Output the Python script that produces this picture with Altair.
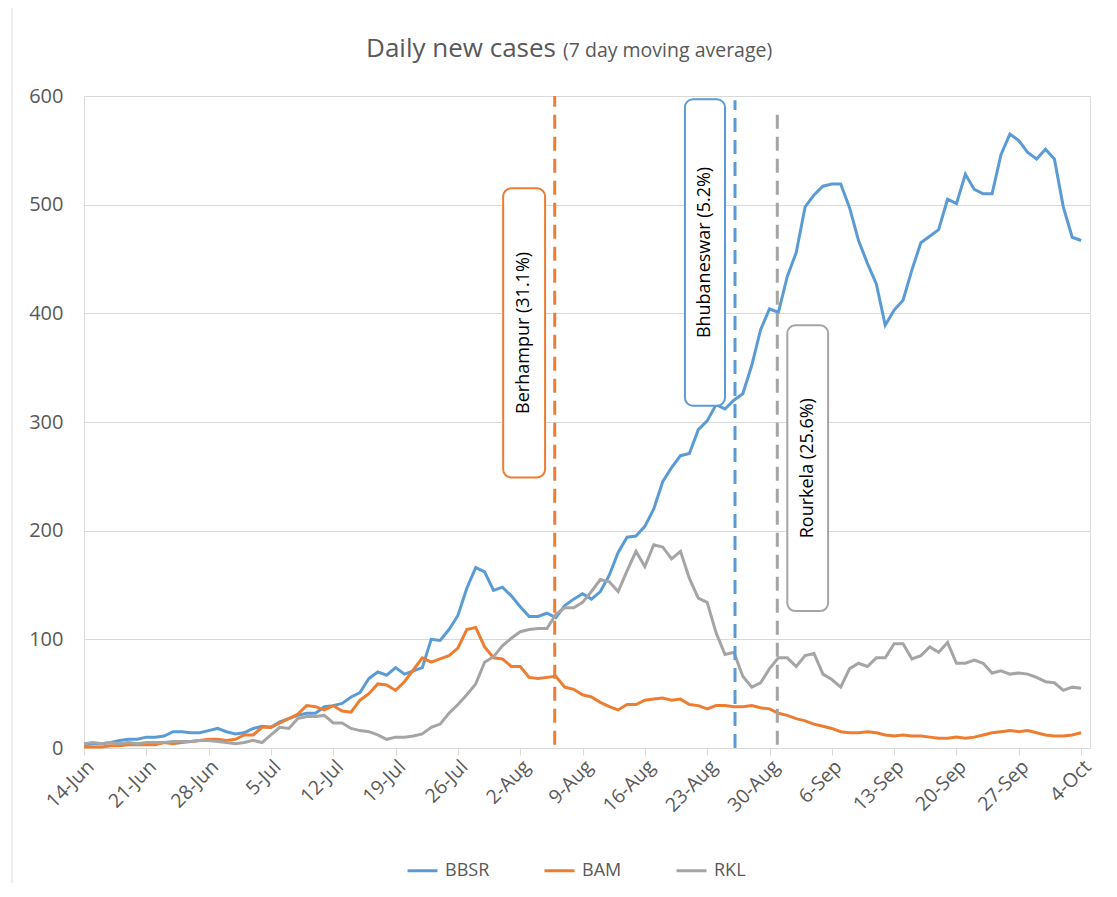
import altair as alt
import pandas as pd

# ---------------- data ----------------
start_date = "2020-06-14"

bbsr = [3, 4, 4, 5, 7, 8, 8, 10, 10, 11, 15, 15, 14, 14, 16, 18, 15, 13, 14, 18,
        20, 19, 24, 27, 30, 32, 32, 38, 39, 41, 47, 51, 64, 70, 67, 74, 68, 71, 74, 100,
        99, 109, 122, 147, 166, 162, 145, 148, 140, 130, 121, 121, 124, 120, 131, 137, 142, 137, 144, 159,
        180, 194, 195, 204, 220, 245, 258, 269, 271, 293, 301, 316, 312, 320, 326, 352, 385, 404, 401, 434,
        456, 498, 509, 517, 519, 519, 497, 467, 446, 427, 389, 403, 412, 440, 465, 471, 477, 505, 501, 528,
        514, 510, 510, 546, 565, 559, 548, 542, 551, 542, 498, 470, 467]

bam = [1, 1, 1, 2, 2, 3, 3, 3, 3, 5, 4, 5, 6, 7, 8, 8, 7, 8, 12, 12,
       19, 19, 23, 27, 31, 39, 38, 35, 39, 34, 33, 44, 50, 59, 58, 53, 61, 72, 83, 79,
       82, 85, 92, 109, 111, 93, 83, 82, 75, 75, 65, 64, 65, 66, 56, 54, 49, 47, 42, 38,
       35, 40, 40, 44, 45, 46, 44, 45, 40, 39, 36, 39, 39, 38, 38, 39, 37, 36, 32, 30,
       27, 25, 22, 20, 18, 15, 14, 14, 15, 14, 12, 11, 12, 11, 11, 10, 9, 9, 10, 9,
       10, 12, 14, 15, 16, 15, 16, 14, 12, 11, 11, 12, 14]

rkl = [4, 5, 4, 5, 4, 5, 4, 5, 5, 5, 6, 6, 6, 7, 7, 6, 5, 4, 5, 7,
       5, 12, 19, 18, 27, 29, 29, 30, 23, 23, 18, 16, 15, 12, 8, 10, 10, 11, 13, 19,
       22, 32, 40, 49, 59, 79, 84, 94, 101, 107, 109, 110, 110, 123, 129, 129, 134, 144, 155, 153,
       144, 163, 181, 167, 187, 185, 174, 181, 156, 138, 134, 106, 86, 88, 66, 56, 60, 73, 83, 83,
       75, 85, 87, 68, 63, 56, 73, 78, 75, 83, 83, 96, 96, 82, 85, 93, 88, 97, 78, 78,
       81, 78, 69, 71, 68, 69, 68, 65, 61, 60, 53, 56, 55]

series_names = ["BBSR", "BAM", "RKL"]
series_colors = ["#5B9BD5", "#ED7D31", "#A5A5A5"]

tick_labels = ["14-Jun", "21-Jun", "28-Jun", "5-Jul", "12-Jul", "19-Jul", "26-Jul",
               "2-Aug", "9-Aug", "16-Aug", "23-Aug", "30-Aug", "6-Sep", "13-Sep",
               "20-Sep", "27-Sep", "4-Oct"]
y_ticks = [0, 100, 200, 300, 400, 500, 600]

# vertical markers (dashed lines)
marker_series = ["BAM", "BBSR", "RKL"]
marker_dates = ["2020-08-05T21:00:00", "2020-08-26T03:00:00", "2020-08-30T21:00:00"]
marker_low = [3, 0, 3]
marker_high = [600, 596, 589]

# annotation boxes
box_series = ["BAM", "BBSR", "RKL"]
box_text = ["Berhampur (31.1%)", "Bhubaneswar (5.2%)", "Rourkela (25.6%)"]
box_left = ["2020-07-31T02:00:00", "2020-08-20T12:00:00", "2020-09-01T00:00:00"]
box_right = ["2020-08-04T19:00:00", "2020-08-25T00:00:00", "2020-09-05T14:00:00"]
box_mid = ["2020-08-02T10:30:00", "2020-08-22T18:00:00", "2020-09-03T07:00:00"]
box_low = [249, 315, 126]
box_high = [515, 597, 389]

# ---------------- tables ----------------
n = len(bbsr)
dates = pd.date_range(start_date, periods=n, freq="D").strftime("%Y-%m-%dT00:00:00").tolist()
df = pd.DataFrame({
    "date": dates * 3,
    "series": ["BBSR"] * n + ["BAM"] * n + ["RKL"] * n,
    "value": bbsr + bam + rkl,
})
markers = pd.DataFrame({"series": marker_series, "date": marker_dates,
                        "lo": marker_low, "hi": marker_high})
boxes = pd.DataFrame({"series": box_series, "label": box_text, "x0": box_left,
                      "x1": box_right, "xm": box_mid, "lo": box_low, "hi": box_high,
                      "ym": [(a + b) / 2 for a, b in zip(box_low, box_high)]})

tick_dt = [pd.to_datetime(t + "-2020", format="%d-%b-%Y") for t in tick_labels]
tick_values = [alt.DateTime(year=d.year, month=d.month, date=d.day) for d in tick_dt]

FONT = "Open Sans"
TXT = "#595959"
GRID = "#d9d9d9"

x_scale = alt.Scale(domain=[alt.DateTime(year=2020, month=6, date=14),
                            alt.DateTime(year=2020, month=10, date=5)], nice=False)
y_scale = alt.Scale(domain=[0, 600], nice=False)
color_scale = alt.Scale(domain=series_names, range=series_colors)

x_axis = alt.Axis(values=tick_values, format="%-d-%b", labelAngle=-45, labelAlign="right",
                  labelBaseline="top", labelFontSize=19.5, labelColor=TXT, labelFont=FONT,
                  domainColor=GRID, tickColor=GRID, tickSize=7, grid=False, title=None,
                  labelPadding=2, labelOverlap=False)
y_axis = alt.Axis(values=y_ticks, labelFontSize=20, labelColor=TXT, labelFont=FONT,
                  domain=False, ticks=False, grid=True, gridColor=GRID, title=None,
                  labelPadding=21)

lines = alt.Chart(df).mark_line(strokeWidth=3, clip=False).encode(
    x=alt.X("date:T", scale=x_scale, axis=x_axis),
    y=alt.Y("value:Q", scale=y_scale, axis=y_axis),
    color=alt.Color("series:N", scale=color_scale, sort=series_names,
                    legend=alt.Legend(title=None, orient="none", direction="horizontal",
                                      legendX=322, legendY=758, symbolType="stroke",
                                      symbolStrokeWidth=3, symbolSize=900,
                                      labelFontSize=18, labelColor=TXT, labelFont=FONT,
                                      columnPadding=48, labelOffset=6)),
    order=alt.Order("date:T"),
)

rules = alt.Chart(markers).mark_rule(strokeWidth=3, strokeDash=[14, 8]).encode(
    x="date:T", y="lo:Q", y2="hi:Q",
    color=alt.Color("series:N", scale=color_scale, legend=None),
)

rects = alt.Chart(boxes).mark_rect(fill="white", strokeWidth=2, cornerRadius=8).encode(
    x="x0:T", x2="x1:T", y="lo:Q", y2="hi:Q",
    stroke=alt.Stroke("series:N", scale=color_scale, legend=None),
)

labels = alt.Chart(boxes).mark_text(angle=270, fontSize=18, font=FONT, color="black",
                                    align="center", baseline="middle").encode(
    x="xm:T", y="ym:Q", text="label:N",
)

title_main = alt.Chart(pd.DataFrame({"t": ["Daily new cases"]})).mark_text(
    font=FONT, fontSize=26, color=TXT, align="right", baseline="alphabetic"
).encode(x=alt.value(472), y=alt.value(-39), text="t:N")

title_sub = alt.Chart(pd.DataFrame({"t": ["(7 day moving average)"]})).mark_text(
    font=FONT, fontSize=19.5, color=TXT, align="left", baseline="alphabetic"
).encode(x=alt.value(479), y=alt.value(-39), text="t:N")

border = alt.Chart(pd.DataFrame({"a": [0]})).mark_rule(color=GRID, strokeWidth=1).encode(
    x=alt.value(-72), y=alt.value(-88), y2=alt.value(793)
)

chart = alt.layer(border, lines, rules, rects, labels, title_main, title_sub).properties(
    width=1006, height=652,
    padding={"left": 76, "top": 88, "right": 19, "bottom": 135},
    autosize=alt.AutoSizeParams(type="none"),
).configure_view(stroke=None).configure(background="white")

chart.save("out.html", embed_options={"renderer": "svg", "actions": False})
